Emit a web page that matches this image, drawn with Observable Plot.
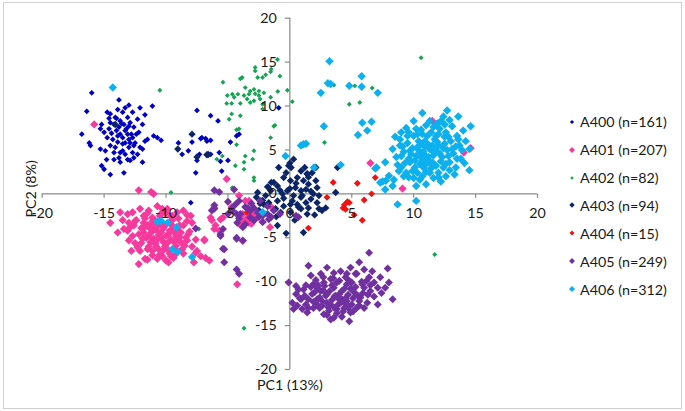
<!DOCTYPE html>
<html><head><meta charset="utf-8">
<script src="https://cdn.jsdelivr.net/npm/d3@7"></script>
<script src="https://cdn.jsdelivr.net/npm/@observablehq/plot@0.6"></script>
<style>
body{margin:0;background:#fff;}
#wrap{position:relative;width:685px;height:411px;font-family:Lato,sans-serif;overflow:hidden;}
#frame{position:absolute;left:3px;top:2px;width:677px;height:405px;border:1px solid #d0d0d0;pointer-events:none;}
#legend{position:absolute;left:566px;top:107.8px;}
.item{display:flex;align-items:center;height:27.9px;font-size:14.3px;color:#1a1a1a;white-space:nowrap;}
.item svg{margin-right:2px;}
</style></head><body>
<div id="wrap"><div id="chart"></div><div id="legend"></div><div id="frame"></div></div>
<script>
const seriesNames = ["A400 (n=161)","A401 (n=207)","A402 (n=82)","A403 (n=94)","A404 (n=15)","A405 (n=249)","A406 (n=312)"];
const seriesColors = ["#0000c4","#f7399d","#12a552","#0c2567","#f50f0f","#7030a0","#0db0ee"];
const markerR = [2.6,3.7,2.2,3.3,3.1,3.6,3.8];
const xTicks = [-20,-15,-10,-5,0,5,10,15,20];
const yTicks = [-20,-15,-10,-5,0,5,10,15,20];
const xTitle = "PC1 (13%)";
const yTitle = "PC2 (8%)";

const a400 = [[-16.0,11.5],[-16.4,9.4],[-16.8,6.8],[-16.2,5.8],[-16.1,5.5],[-15.3,5.1],[-15.2,3.2],[-15.0,2.8],[-14.5,2.2],[-14.8,3.9],[-14.2,3.9],[-13.4,2.4],[-13.7,3.6],[-12.9,3.8],[-11.9,3.6],[-12.3,4.5],[-11.9,5.1],[-11.7,6.0],[-11.5,6.2],[-11.0,6.6],[-10.7,6.4],[-10.4,6.1],[-11.1,10.0],[-12.1,9.8],[-13.0,10.1],[-13.8,10.7],[-11.7,9.0],[-11.9,7.9],
[-14.75,9.3],[-14.5,9.1],[-13.9,9.6],[-13.5,9.3],[-13.1,8.7],[-12.7,9.3],[-12.3,8.5],[-15.3,7.4],[-15.0,7.0],[-14.6,7.4],[-14.2,7.9],[-13.8,7.6],[-13.4,7.9],[-13.0,7.7],[-12.6,7.6],[-12.2,7.0],[-14.75,6.4],[-14.3,6.2],[-13.9,6.6],[-13.5,6.4],[-13.1,6.8],[-12.7,6.4],[-12.5,5.8],[-14.5,5.5],[-14.1,5.3],[-13.7,4.7],[-13.3,4.5],[-13.0,5.3],[-12.7,4.7],[-14.2,4.7],[-13.5,5.7],[-13.3,5.8],[-14.1,8.7],[-13.7,8.3],[-13.3,7.2],[-14.5,8.1],[-15.2,7.9],[-12.9,5.8],[-12.1,5.3],[-13.8,4.1],[-13.1,3.9],[-12.6,4.1],[-14.9,4.9],
[-14.0,8.6],[-13.6,8.0],[-13.2,7.4],[-12.8,6.8],[-14.4,6.9],[-13.9,5.9],[-13.0,6.2],[-12.4,6.8],[-12.9,8.1],[-13.5,4.9],[-14.6,8.6],[-13.3,9.8],[-12.6,5.5],[-14.0,7.2],[-13.7,6.8],
[-7.5,9.5],[-9.0,5.8],[-8.2,4.9],[-7.2,6.3],[-7.5,3.8],[-6.7,6.0],[-7.6,2.4],[-6.4,8.9],[-5.8,8.3],[-8.7,4.5],[-7.9,5.9],[-7.1,6.4],[-6.8,6.3],[-6.4,6.1],[-7.3,4.5],[-6.6,4.4],[-6.4,4.5],[-5.7,4.7],[-5.0,3.8],[-4.8,5.9],[-4.1,6.8],[-4.3,6.6],[-0.9,9.8],[-8.0,-1.0],[-5.5,2.6],[-5.6,3.7]];

const a401 = [[-14.5,-3.3],[-13.9,-4.4],[-13.7,-2.1],[-13.1,-2.3],[-12.7,-2.1],[-12.5,-3.1],[-13.4,-4.0],[-13.1,-4.2],[-12.3,-6.1],[-12.1,-6.5],[-11.7,-7.4],[-12.2,-8.0],[-12.1,-1.7],[-11.8,-2.5],[-11.4,-1.9],[-11.1,-2.7],[-11.5,-3.6],[-11.8,-4.4],[-11.4,-4.8],[-11.0,-4.0],[-11.25,-5.5],[-10.85,-5.7],[-10.6,-6.3],[-10.3,-7.1],[-9.8,-7.8],[-10.7,-1.4],[-10.3,-2.1],[-9.9,-1.7],[-9.5,-2.5],[-9.1,-2.1],[-8.6,-1.9],[-8.0,-2.5],[-7.9,-3.3],[-8.3,-3.1],[-10.4,-4.4],[-10.0,-4.8],[-9.6,-5.2],[-9.2,-4.8],[-8.8,-5.5],[-8.4,-5.0],[-8.2,-4.6],[-9.1,-6.5],[-8.7,-6.3],[-9.6,-7.1],[-9.4,-7.3],[-10.7,-5.2],[-10.2,-5.5],[-11.0,-3.3],[-10.6,-3.6],[-10.0,-3.5],[-9.5,-3.6],[-9.1,-4.0],[-8.8,-4.4],[-11.5,-6.3],[-11.1,-6.5],[-9.9,-6.3],[-7.75,-7.8],[-7.6,-6.7],[-7.5,-6.5],[-7.2,-7.1],[-6.9,-5.2],[-6.8,-7.3],[-6.5,-7.6],[-6.4,-2.7],[-6.1,-4.0],[-5.6,-2.9],[-6.1,-1.6],[-4.25,-10.3],[-12.6,-3.6],[-13.0,-3.3],
[-11.5,-2.2],[-11.0,-2.9],[-10.5,-2.5],[-10.0,-2.2],[-9.5,-3.0],[-9.0,-2.8],[-11.8,-3.3],[-11.3,-3.9],[-10.8,-4.1],[-10.2,-3.9],[-9.7,-4.2],[-9.3,-4.4],[-8.9,-3.6],[-12.2,-4.6],[-11.6,-5.0],[-11.0,-5.1],[-10.4,-5.0],[-9.9,-5.6],[-9.4,-5.4],[-8.9,-4.9],[-12.0,-5.6],[-11.4,-6.0],[-10.8,-6.0],[-10.2,-6.4],[-9.7,-6.8],[-9.2,-5.9],[-10.5,-6.9],[-11.1,-7.0],[-12.7,-4.8],[-13.0,-5.3],[-8.5,-5.9],[-8.1,-4.3],[-10.0,-7.6],[-11.7,-3.8],[-12.4,-3.0],[-7.6,-5.2],[-7.9,-6.0],
[-11.2,-3.3],[-10.6,-4.7],[-10.9,-5.6],[-10.1,-6.0],[-9.8,-4.6],[-11.9,-5.1],[-12.5,-5.6],[-12.8,-6.5],[-11.5,-7.5],[-10.7,-7.4],[-9.3,-7.0],[-8.6,-6.8],[-9.6,-2.6],[-10.3,-1.7],[-11.7,-2.8],[-12.0,-3.9],[-12.9,-3.8],[-13.5,-3.0],[-8.3,-2.4],[-8.6,-3.6],[-9.4,-3.9],[-10.4,-3.3],[-11.2,-4.4],[-9.1,-5.2],[-8.3,-5.3],
[-12.2,0.4],[-11.2,0.2],[-11.0,0.0],[-6.0,-3.6],[-6.3,-3.0],[-5.7,-4.2],[-5.4,-2.7],[-3.8,-2.3],[-3.4,-2.7],[-3.1,-3.4],[-2.9,-2.5],[-4.1,-3.4],[-4.7,-1.5],[-3.6,-0.8],[-1.5,-1.5],[-1.6,-3.8],[-2.2,-3.2],[-5.1,1.7],[-6.9,-5.3],[-4.1,-0.2],[-3.3,-0.8],[-3.2,-2.1],[-3.7,-3.1],[-3.3,-3.3],[-2.8,-2.9],[-3.8,-5.35],
[-15.8,7.9],[6.5,3.5],[11.5,8.3],[11.85,7.9],[14.05,4.7],[14.6,5.2],[9.1,0.6]];

const a402 = [[-1.0,15.3],[-1.5,14.2],[-1.55,13.9],[-1.95,13.55],[-2.8,14.4],[-2.8,14.0],[-2.6,13.25],[-2.2,13.25],[-0.8,13.4],[-4.0,13.1],[-3.85,13.25],[-5.4,12.7],[-3.6,12.1],[-3.2,11.7],[-2.9,11.9],[-2.5,11.7],[-0.2,11.8],[-0.97,11.65],[-4.2,11.35],[-3.7,11.2],[-3.3,11.35],[-2.8,11.4],[-2.5,11.2],[-2.1,11.5],[-5.05,11.2],[-4.65,11.35],[-4.5,11.0],[-3.45,10.8],[-2.9,10.6],[-2.4,10.8],[-1.55,11.0],[-3.2,10.4],[-4.0,10.3],[-5.1,10.3],[-4.7,10.3],[-2.2,10.2],[-2.2,9.65],[0.2,10.5],[-4.0,8.9],[-4.7,9.1],[-4.9,8.5],[-1.3,7.7],[-4.3,7.3],[-4.1,7.4],[-1.55,6.4],[2.8,5.85],
[3.55,12.4],[5.25,12.3],[6.65,12.05],[4.8,10.2],[5.65,10.4],[10.6,15.5],[11.7,-6.9],[-3.7,-15.3],[-10.5,11.8],[-9.6,0.15],[-7.35,-4.0],
[-5.45,4.3],[-5.9,3.95],[-4.4,3.2],[-3.7,3.6],[-3.0,3.95],[-2.9,4.9],[-2.9,1.85],[-2.9,1.5],[-3.6,4.3],[-4.3,5.6],[-4.65,0.7],[-3.7,2.8],[-1.2,7.8]];

const a403 = [[0.3,3.95],[-0.1,3.2],[-0.9,3.0],[0.9,2.6],[1.4,2.25],[1.8,2.4],[2.1,3.0],[0.6,1.85],[0.05,1.5],[-0.5,1.85],[-1.3,1.3],[-1.0,0.9],[1.1,1.5],[1.5,1.1],[2.1,1.5],[2.2,0.7],[1.9,0.0],[1.7,-0.6],[0.9,0.35],[0.45,0.7],[-0.2,0.35],[-0.6,0.0],[0.3,-0.2],[0.9,-0.4],[1.3,-1.0],[0.6,-1.2],[0.05,-1.2],[-0.5,-1.4],[-1.0,-0.8],[-1.55,0.35],[-1.95,-0.2],[-2.6,0.15],[-2.35,-0.8],[-1.7,-1.0],[-1.15,-1.7],[-0.75,-2.1],[0.05,-2.1],[0.9,-1.7],[1.5,-1.6],[2.35,-1.7],[2.6,-1.9],[2.9,-1.6],[1.4,-2.3],[-1.0,-3.6],[-0.3,-4.5],[1.1,-4.4],[3.7,0.15],[3.85,3.0],[1.5,1.9],[-2.1,-1.2],[-2.5,-1.9],[2.2,-1.0],[2.35,-0.2],
[-2.2,-0.75],[-2.7,-0.4],[-2.4,-1.1],[-1.75,0.75],[-1.5,1.3],[1.4,2.3],[0.0,3.5],[0.1,3.0],
[0.0,0.6],[0.5,1.2],[1.0,-0.2],[1.3,0.5],[-0.5,-0.5],[0.2,-0.8],[1.7,0.3],[-0.8,0.4],[0.7,-1.5],[-0.3,2.4],[1.2,3.0],[-1.1,-2.6],[0.4,-3.0],[2.0,-2.4],[-1.8,0.8],
[-7.9,6.8],[-9.05,5.1],[-7.5,4.2],[-6.7,4.45],[-6.6,4.5],[-14.1,7.9],[11.6,4.8]];

const a404 = [[3.5,1.3],[3.0,-0.4],[5.45,1.2],[6.9,1.85],[6.6,0.0],[6.0,-0.7],[4.65,-0.9],[4.4,-1.25],[4.3,-1.6],[4.5,-1.75],[5.2,-2.4],[5.85,-3.0],[1.5,-3.9],[-3.45,-2.1],[4.8,-1.0]];

const a405 = [[6.4,-6.7],[5.6,-7.8],[1.5,-8.2],[3.0,-8.4],[4.9,-8.4],[6.0,-8.6],[6.65,-8.8],[7.9,-8.5],[1.7,-9.3],[2.5,-9.1],[3.55,-9.0],[4.1,-8.8],[5.4,-9.1],[6.4,-9.5],[-0.1,-10.1],[0.5,-10.5],[1.1,-10.9],[1.9,-10.3],[2.75,-10.1],[3.3,-9.7],[4.0,-9.9],[4.5,-9.5],[5.0,-10.1],[5.85,-10.3],[7.1,-10.7],[8.0,-10.1],[7.7,-10.7],[8.3,-12.0],[7.1,-12.6],[0.5,-11.4],[0.2,-12.4],[0.3,-13.1],[0.9,-12.0],[1.3,-12.6],[1.4,-13.5],[1.9,-13.0],[2.2,-12.0],[2.75,-13.7],[3.3,-12.6],[3.55,-14.1],[3.7,-11.6],[4.2,-11.05],[4.8,-14.5],[4.9,-13.5],[4.6,-12.2],[5.4,-13.0],[5.7,-11.8],[6.25,-12.4],[6.5,-11.05],[6.0,-10.7],[2.5,-11.05],[3.0,-11.4],[3.55,-10.7],[4.1,-12.4],[1.8,-11.4],[2.2,-10.7],[1.5,-12.0],[2.6,-12.75],[4.6,-10.3],[5.2,-11.2],[4.4,-13.0],[0.7,-10.9],[5.3,-9.1],[3.8,-13.1],[3.15,-13.3],[1.0,-13.1],[5.6,-12.2],[6.8,-10.1],[7.3,-9.5],
[2.0,-11.2],[2.4,-11.8],[2.8,-10.5],[3.2,-11.1],[3.4,-12.1],[3.8,-10.1],[4.2,-12.0],[4.4,-10.8],[4.7,-11.5],[5.0,-12.6],[5.3,-10.6],[5.5,-11.6],[3.0,-12.4],[3.6,-13.0],[4.0,-11.4],[4.8,-9.9],[2.2,-12.6],[1.7,-10.6],[1.2,-11.6],[0.8,-11.9],[3.5,-9.6],[6.2,-9.9],[5.9,-11.3],[4.3,-13.4],[2.7,-9.5],[3.9,-12.6],[5.1,-13.4],[2.4,-13.0],[1.5,-13.0],[6.0,-13.0],[6.8,-11.7],[4.6,-9.1],[3.0,-13.8],
[2.3,-10.4],[2.9,-11.6],[3.4,-10.4],[3.9,-11.9],[4.5,-12.5],[5.1,-11.9],[4.9,-10.8],[3.1,-12.9],[2.6,-12.2],[1.9,-12.3],[3.8,-13.6],[4.7,-13.0],[5.6,-12.7],[6.3,-11.5],[5.8,-10.0],[2.1,-9.8],[1.3,-10.4],[0.6,-12.7],[3.3,-14.3],[4.2,-14.0],[6.5,-10.4],[7.4,-11.3],[2.7,-11.0],[3.6,-11.7],[4.5,-11.9],
[-6.1,0.4],[-5.7,0.2],[-4.5,0.5],[-6.1,-1.3],[-5.0,-0.9],[-4.7,-1.7],[-4.3,-2.3],[-3.6,-1.5],[-3.1,-1.1],[-2.4,-0.8],[-5.0,-2.3],[-5.4,-4.0],[-5.4,-6.25],[-4.3,-5.1],[-3.8,-5.3],[-4.3,-8.6],[-4.1,-9.1],[-6.3,-1.9],[-1.5,-2.65],[-0.8,-2.3],[0.7,-2.65],[-1.8,-2.3],[-2.5,-2.65],[-2.2,-3.2],[-2.9,-3.0],[-3.2,-1.9],[-4.1,-2.8],[-3.8,-3.8],[-5.3,-6.3],[-5.3,-7.8],[-5.6,-4.6],[-4.3,-5.0],[-6.1,-1.7],[-7.6,-3.95],[-4.4,-1.2],[-4.1,-0.8],[-4.65,-1.9],[-4.0,-2.3],[-3.4,-1.6],[-2.9,-1.6],[-2.6,-2.1],[-3.2,-2.7],[-2.2,-2.5],[-1.8,-1.4],[-1.7,-2.9],[-1.3,-1.9],[0.5,-2.5],[-4.25,-3.3],[-3.6,-3.45],[-5.6,-4.8]];

const a406 = [[8.9,6.2],[9.4,7.5],[10.7,9.2],[12.7,9.5],[12.4,8.8],[11.9,8.0],[12.9,8.4],[13.1,7.7],[14.6,7.7],[14.0,7.2],[13.5,6.6],[14.5,5.1],[13.7,5.5],[14.5,2.7],[13.4,3.0],[12.6,2.0],[12.2,1.4],[11.0,1.1],[10.5,1.6],[9.6,1.9],[8.3,0.9],[7.7,0.5],[7.5,1.4],[8.0,2.05],[7.7,3.6],[8.3,5.1],[8.6,4.2],[9.0,3.0],[9.2,4.8],[9.5,5.8],[9.7,3.6],[9.9,2.6],[10.0,6.6],[10.2,4.3],[10.3,5.3],[10.5,3.4],[10.6,7.3],[10.8,4.8],[10.9,6.0],[11.0,2.5],[11.1,3.9],[11.3,5.1],[11.4,7.0],[11.6,4.4],[11.7,6.2],[11.8,3.2],[12.0,5.5],[12.1,7.4],[12.3,4.2],[12.5,6.5],[12.7,5.0],[12.9,3.6],[13.0,6.0],[13.2,4.6],[13.8,4.0],[14.2,6.0],[9.8,4.5],[10.4,6.0],[11.2,5.6],[11.5,4.9],[10.6,4.1],[11.9,4.8],[10.1,3.0],[12.4,3.0],[9.4,2.4],[8.8,2.6],[8.5,6.5],[9.0,7.0],[11.3,8.3],[10.0,8.3],[13.6,8.8],[12.5,7.9],[13.3,2.2],[11.6,1.8],[10.2,0.9],[12.0,2.4],[14.1,3.5],[13.9,5.0],[9.1,5.4],[10.7,2.0],
[9.6,4.0],[9.9,5.2],[10.3,2.4],[10.5,4.6],[10.8,3.0],[10.9,5.4],[11.2,4.2],[11.4,2.9],[11.7,5.0],[11.9,5.9],[12.2,3.7],[12.5,5.7],[12.8,4.3],[12.6,7.0],[11.1,6.6],[10.2,7.4],[9.5,6.6],[9.0,4.3],[8.7,3.3],[10.0,1.8],[11.3,3.5],[12.0,6.8],[13.4,5.4],[11.6,7.6],[10.7,6.8],[9.3,3.5],[12.9,2.7],[13.5,4.0],
[10.4,5.0],[10.9,4.4],[11.5,3.6],[12.1,4.6],[11.0,3.4],[10.6,5.7],[11.8,6.6],[12.4,5.2],[10.1,3.8],[9.7,4.9],[11.3,2.4],[12.0,1.9],[9.2,2.0],[8.4,1.6],[13.1,5.1],[12.8,6.5],[13.6,6.2],[10.3,6.8],[9.6,7.0],[11.0,7.8],[12.2,8.3],[8.9,5.5],[11.5,5.5],[10.8,3.7],[12.6,3.4],
[3.2,15.1],[3.07,12.6],[3.3,12.5],[2.5,11.5],[4.8,12.3],[5.8,13.4],[5.8,12.2],[7.1,11.5],[2.75,7.7],[5.85,8.1],[6.6,8.2],[6.25,7.2],[5.5,6.7],[6.9,2.9],[8.7,-1.2],[10.2,-0.8],[1.3,5.7],[1.1,5.65],[0.9,5.5],[-0.35,4.3],[1.95,3.0],[4.1,3.3],[7.0,3.0],[7.75,1.5],[7.3,1.3],
[-14.3,12.1],[-10.7,-3.15],[-10.4,-3.1],[-9.85,-3.3],[-9.15,-3.8],[-9.5,-6.3],[-9.05,-6.6],[-7.9,-7.2],[-2.2,-2.1]];

const groups = [a400,a401,a402,a403,a404,a405,a406];

const axisColor = "#8a8a8a";
const textColor = "#1a1a1a";
const tickDown = {draw(ctx){ctx.moveTo(0,0);ctx.lineTo(0,4);}};
const tickLeft = {draw(ctx){ctx.moveTo(0,0);ctx.lineTo(-5,0);}};

const chart = Plot.plot({
  width: 685, height: 411,
  marginLeft: 41.7, marginRight: 148, marginTop: 17.7, marginBottom: 42,
  x: {domain: [-20, 20], axis: null},
  y: {domain: [-20, 20], axis: null},
  style: {fontFamily: "Lato, sans-serif", fontSize: "14px", background: "white"},
  marks: [
    Plot.ruleY([0], {x1: -20, x2: 20, stroke: axisColor, strokeWidth: 1.2}),
    Plot.ruleX([0], {y1: -20, y2: 20, stroke: axisColor, strokeWidth: 1.2}),
    Plot.dot(xTicks, {x: d => d, y: 0, symbol: tickDown, stroke: axisColor, strokeWidth: 1.2}),
    Plot.dot(yTicks, {x: 0, y: d => d, symbol: tickLeft, stroke: axisColor, strokeWidth: 1.2}),
    ...groups.map((pts, i) => Plot.dot(pts, {
      x: d => d[0], y: d => d[1], symbol: "diamond2",
      r: markerR[i], fill: seriesColors[i], stroke: "none"
    })),
    Plot.text(xTicks, {x: d => d, y: 0, text: d => String(d), dy: 20, fontSize: 14.3, fill: textColor}),
    Plot.text(yTicks, {x: 0, y: d => d, text: d => String(d), dx: -13, textAnchor: "end", fontSize: 14.3, fill: textColor}),
    Plot.text([xTitle], {x: 0, y: -20, text: d => d, dy: 16, fontSize: 14.3, fill: textColor}),
    Plot.text([yTitle], {x: -20, y: 0, text: d => d, rotate: -90, dx: -11, dy: -5, fontSize: 14.3, fill: textColor})
  ]
});
document.getElementById("chart").appendChild(chart);

const legend = document.getElementById("legend");
seriesNames.forEach((name, i) => {
  const item = document.createElement("div");
  item.className = "item";
  const s = markerR[i] * 2.22 * 0.72;
  const h = s / 2;
  item.innerHTML = `<svg width="12" height="12" viewBox="0 0 12 12"><path d="M6,${6-h}L${6+h},6L6,${6+h}L${6-h},6Z" fill="${seriesColors[i]}"/></svg><span>${name}</span>`;
  legend.appendChild(item);
});
</script>
</body></html>
